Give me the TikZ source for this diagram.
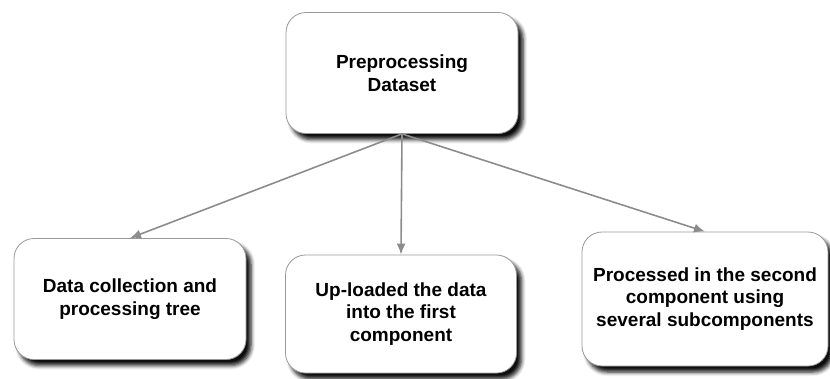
\documentclass[tikz,border=0pt]{standalone}
\usepackage{fontspec}
\setmainfont{Liberation Sans}
\usetikzlibrary{arrows.meta,shadows.blur}

\tikzset{
  stagebox/.style={draw=black!40, fill=white, rounded corners=20pt, thick,
    align=center, inner sep=2pt, font=\bfseries\fontsize{19}{22.5}\selectfont,
    blur shadow={shadow xshift=5pt, shadow yshift=-6pt, shadow blur steps=5,
      shadow blur radius=4pt, shadow opacity=95}},
  flow/.style={-{Latex[length=11pt,width=9pt]}, draw=black!45, line width=1.6pt}
}

\begin{document}
\begin{tikzpicture}[x=1pt, y=-1pt]
\useasboundingbox (0,0) rectangle (830,378);
%\draw[very thin,color=gray] (0,0) grid (830,378);

\node[stagebox, minimum width=232pt, minimum height=121pt] (prep) at (402,73) {Preprocessing\\Dataset};

\node[stagebox, minimum width=232pt, minimum height=121pt] (collect) at (130,299) {Data collection and\\processing tree};
\node[stagebox, minimum width=231pt, minimum height=118pt] (upload) at (401,314) {Up-loaded the data\\into the first\\component};
\node[stagebox, minimum width=246pt, minimum height=134pt] (second) at (705,299) {Processed in the second\\component using\\several subcomponents};

\draw[flow] (prep.south) -- (collect.north);
\draw[flow] (prep.south) -- (upload.north);
\draw[flow] (prep.south) -- (second.north);

\end{tikzpicture}
\end{document}
